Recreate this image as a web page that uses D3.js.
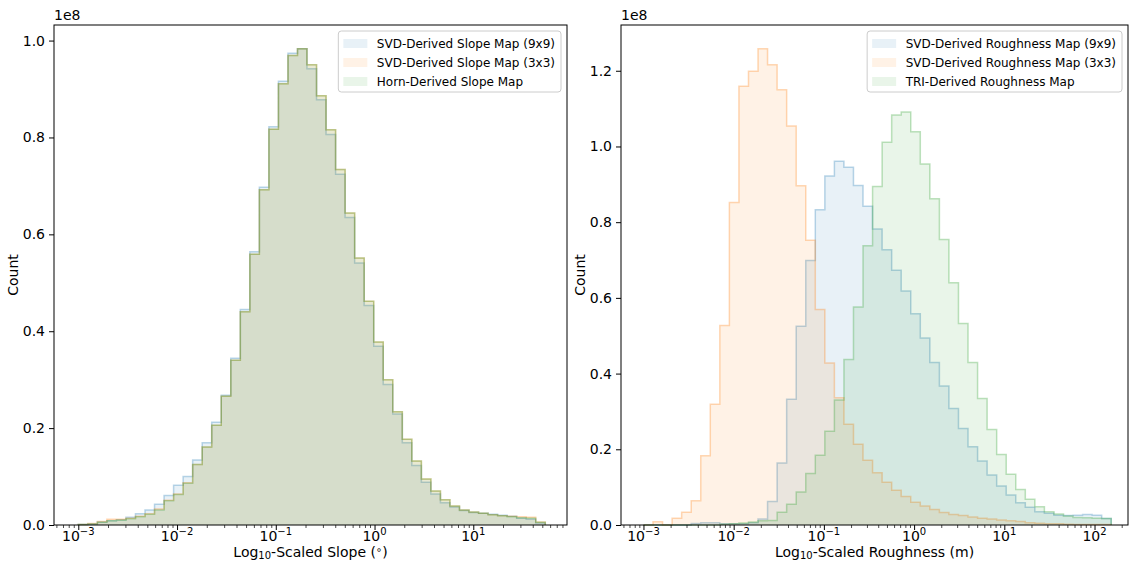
<!DOCTYPE html>
<html>
<head>
<meta charset="utf-8">
<script src="https://cdn.jsdelivr.net/npm/d3@7"></script>
<style>
  body { margin: 0; background: #fff; }
  text { font-family: "DejaVu Sans", sans-serif; fill: #000; }
</style>
</head>
<body>
<div id="chart"></div>
<script>

// counts per log-spaced bin, in units of 1e8 (49 bins per panel)
var slopeSvd9 = [0.001, 0.002, 0.006, 0.009, 0.011, 0.016, 0.023, 0.031, 0.043, 0.061,
  0.082, 0.100, 0.134, 0.170, 0.212, 0.268, 0.344, 0.445, 0.564, 0.697,
  0.822, 0.916, 0.974, 0.983, 0.942, 0.878, 0.806, 0.724, 0.635, 0.541,
  0.453, 0.369, 0.290, 0.229, 0.170, 0.123, 0.088, 0.064, 0.046, 0.037,
  0.030, 0.026, 0.024, 0.022, 0.020, 0.018, 0.014, 0.012, 0.004];
var slopeSvd3 = [0.001, 0.003, 0.007, 0.012, 0.012, 0.014, 0.018, 0.023, 0.033, 0.051,
  0.064, 0.087, 0.125, 0.161, 0.206, 0.266, 0.340, 0.440, 0.559, 0.692,
  0.817, 0.911, 0.969, 0.983, 0.950, 0.886, 0.816, 0.734, 0.644, 0.551,
  0.462, 0.378, 0.300, 0.234, 0.177, 0.132, 0.095, 0.070, 0.052, 0.039,
  0.031, 0.027, 0.024, 0.021, 0.019, 0.018, 0.017, 0.016, 0.006];
var slopeHorn = [0.001, 0.002, 0.0055, 0.009, 0.010, 0.013, 0.017, 0.022, 0.031, 0.050,
  0.063, 0.086, 0.125, 0.161, 0.206, 0.266, 0.340, 0.440, 0.559, 0.692,
  0.817, 0.911, 0.969, 0.983, 0.950, 0.886, 0.816, 0.734, 0.644, 0.551,
  0.462, 0.378, 0.300, 0.234, 0.177, 0.132, 0.095, 0.070, 0.052, 0.039,
  0.031, 0.027, 0.024, 0.021, 0.019, 0.017, 0.015, 0.014, 0.0055];

var roughSvd9 = [0, 0, 0, 0, 0, 0.004, 0.006, 0.006, 0.003, 0.003,
  0.003, 0.006, 0.016, 0.062, 0.164, 0.332, 0.525, 0.699, 0.833, 0.922,
  0.961, 0.945, 0.897, 0.842, 0.782, 0.727, 0.673, 0.618, 0.558, 0.494,
  0.429, 0.367, 0.308, 0.255, 0.207, 0.169, 0.132, 0.103, 0.079, 0.059,
  0.047, 0.035, 0.031, 0.026, 0.025, 0.026, 0.028, 0.026, 0.017];
var roughSvd3 = [0, 0.0088, 0, 0.0176, 0.034, 0.064, 0.183, 0.319, 0.527, 0.852,
  1.159, 1.199, 1.258, 1.216, 1.150, 1.054, 0.896, 0.752, 0.569, 0.428,
  0.336, 0.266, 0.213, 0.171, 0.138, 0.113, 0.0915, 0.075, 0.060, 0.050,
  0.041, 0.033, 0.028, 0.025, 0.021, 0.018, 0.016, 0.013, 0.011, 0.009,
  0.006, 0.0045, 0.0035, 0.003, 0.002, 0.0015, 0.001, 0.001, 0.001];
var roughTri = [0, 0, 0, 0, 0, 0, 0, 0, 0.002, 0.003,
  0.005, 0.008, 0.011, 0.012, 0.034, 0.055, 0.087, 0.136, 0.184, 0.248,
  0.330, 0.437, 0.576, 0.738, 0.894, 1.011, 1.083, 1.091, 1.039, 0.954,
  0.862, 0.754, 0.640, 0.532, 0.429, 0.334, 0.252, 0.186, 0.134, 0.094,
  0.068, 0.048, 0.035, 0.029, 0.024, 0.020, 0.019, 0.018, 0.017];

// log10 of first and last bin edge
var slopeBinRange = [-3, 1.729];
var roughBinRange = [-3, 2.185];

var slopeNames = ["SVD-Derived Slope Map (9x9)", "SVD-Derived Slope Map (3x3)", "Horn-Derived Slope Map"];
var roughNames = ["SVD-Derived Roughness Map (9x9)", "SVD-Derived Roughness Map (3x3)", "TRI-Derived Roughness Map"];

var slopeXTicks = [-3, -2, -1, 0, 1];
var roughXTicks = [-3, -2, -1, 0, 1, 2];
var slopeYTicks = [0, 0.2, 0.4, 0.6, 0.8, 1.0];
var roughYTicks = [0, 0.2, 0.4, 0.6, 0.8, 1.0, 1.2];

var colors = ["#1f77b4", "#ff7f0e", "#2ca02c"];

var svg = d3.select("#chart").append("svg")
    .attr("width", 1129)
    .attr("height", 562);

var panels = [
  {left: 54, right: 567, series: [slopeSvd9, slopeSvd3, slopeHorn], names: slopeNames,
   binRange: slopeBinRange, xLog: [-3.246, 1.949], xTicks: slopeXTicks, yTicks: slopeYTicks,
   xLabel: "slope"},
  {left: 621, right: 1128, series: [roughSvd9, roughSvd3, roughTri], names: roughNames,
   binRange: roughBinRange, xLog: [-3.249, 2.371], xTicks: roughXTicks, yTicks: roughYTicks,
   xLabel: "rough"}
];
var plotTop = 25, plotBottom = 525;

panels.forEach(function(p) {
  var g = svg.append("g");

  var x = d3.scaleLog()
    .domain([Math.pow(10, p.xLog[0]), Math.pow(10, p.xLog[1])])
    .range([p.left, p.right]);
  var yMax = 1.05 * d3.max(p.series, function(s) { return d3.max(s); });
  var y = d3.scaleLinear()
    .domain([0, yMax])
    .range([plotBottom, plotTop]);

  // bin edges
  var n = p.series[0].length;
  var edges = d3.range(n + 1).map(function(i) {
    return Math.pow(10, p.binRange[0] + i * (p.binRange[1] - p.binRange[0]) / n);
  });

  var line = d3.line()
    .x(function(d) { return x(d[0]); })
    .y(function(d) { return y(d[1]); });

  // stepfilled histograms (fill) + step outlines
  p.series.forEach(function(vals, k) {
    var pts = [[edges[0], 0]];
    vals.forEach(function(v, i) { pts.push([edges[i], v], [edges[i + 1], v]); });
    pts.push([edges[n], 0]);
    g.append("path")
      .attr("d", line(pts) + "Z")
      .attr("fill", colors[k])
      .attr("fill-opacity", 0.1)
      .attr("stroke", "none");
    g.append("path")
      .attr("d", line(pts))
      .attr("fill", "none")
      .attr("stroke", colors[k])
      .attr("stroke-opacity", 0.3)
      .attr("stroke-width", 1.5);
  });

  // Y axis
  var yAxis = g.append("g")
    .attr("transform", "translate(" + p.left + ",0)")
    .call(d3.axisLeft(y).tickValues(p.yTicks).tickSize(5).tickPadding(4)
      .tickFormat(d3.format(".1f")));
  yAxis.select(".domain").remove();
  yAxis.selectAll("text").style("font-size", "14px").style("font-family", "DejaVu Sans");

  // X axis: minor ticks
  var minors = [];
  for (var e = Math.floor(p.xLog[0]); e <= Math.ceil(p.xLog[1]); e++) {
    for (var m = 2; m <= 9; m++) {
      var v = m * Math.pow(10, e);
      if (v >= x.domain()[0] && v <= x.domain()[1]) minors.push(v);
    }
  }
  var xMinor = g.append("g")
    .attr("transform", "translate(0," + plotBottom + ")")
    .call(d3.axisBottom(x).tickValues(minors).tickSize(3).tickFormat(""));
  xMinor.select(".domain").remove();
  xMinor.selectAll("line").attr("stroke-width", 0.7);

  var majors = p.xTicks.map(function(t) { return Math.pow(10, t); });
  var xMajor = g.append("g")
    .attr("transform", "translate(0," + plotBottom + ")")
    .call(d3.axisBottom(x).tickValues(majors).tickSize(5).tickFormat(""));
  xMajor.select(".domain").remove();

  // tick labels 10^k
  p.xTicks.forEach(function(t) {
    var lab = g.append("text")
      .attr("x", x(Math.pow(10, t)))
      .attr("y", plotBottom + 15.5)
      .attr("text-anchor", "middle")
      .style("font-size", "14px");
    lab.append("tspan").text("10");
    lab.append("tspan")
      .attr("dy", -6)
      .style("font-size", "10px")
      .text(t < 0 ? "\u2212" + (-t) : String(t));
  });

  // frame
  g.append("rect")
    .attr("x", p.left).attr("y", plotTop)
    .attr("width", p.right - p.left).attr("height", plotBottom - plotTop)
    .attr("fill", "none").attr("stroke", "#000").attr("stroke-width", 1);

  // offset text
  g.append("text")
    .attr("x", p.left).attr("y", 20)
    .style("font-size", "14px")
    .text("1e8");

  // y label
  g.append("text")
    .attr("transform", "translate(" + (p.left - 36) + "," + ((plotTop + plotBottom) / 2) + ") rotate(-90)")
    .attr("text-anchor", "middle")
    .style("font-size", "14px")
    .text("Count");

  // x label
  var xl = g.append("text")
    .attr("x", (p.left + p.right) / 2)
    .attr("y", 557)
    .attr("text-anchor", "middle")
    .style("font-size", "14px");
  xl.append("tspan").text("Log");
  xl.append("tspan").attr("dy", 2).style("font-size", "10px").text("10");
  if (p.xLabel == "slope") {
    xl.append("tspan").attr("dy", -2).text("-Scaled Slope (");
    xl.append("tspan").attr("dy", -4).style("font-size", "10px").text("\u2218");
    xl.append("tspan").attr("dy", 4).text(")");
  } else {
    xl.append("tspan").attr("dy", -2).text("-Scaled Roughness (m)");
  }

  // legend
  var leg = g.append("g");
  var box = leg.append("rect");
  var rows = leg.selectAll("g.row")
    .data(p.names)
    .enter()
    .append("g");
  rows.append("rect")
    .attr("x", 5)
    .attr("y", function(d, i) { return 8 + i * 19; })
    .attr("width", 24)
    .attr("height", 9)
    .attr("fill", function(d, i) { return colors[i]; })
    .attr("fill-opacity", 0.1);
  var labels = rows.append("text")
    .attr("x", 38.5)
    .attr("y", function(d, i) { return 12.6 + i * 19; })
    .attr("dy", "0.35em")
    .style("font-size", "12px")
    .text(function(d) { return d; });
  var maxW = 0;
  labels.each(function() { maxW = Math.max(maxW, this.getComputedTextLength()); });
  var boxW = 38.5 + maxW + 6;
  box.attr("x", 0).attr("y", 0)
    .attr("width", boxW).attr("height", 61)
    .attr("rx", 3)
    .attr("fill", "#fff").attr("fill-opacity", 0.8)
    .attr("stroke", "#ccc").attr("stroke-width", 1);
  leg.attr("transform", "translate(" + (p.right - 6 - boxW) + "," + (plotTop + 6) + ")");
});

</script>
</body>
</html>
